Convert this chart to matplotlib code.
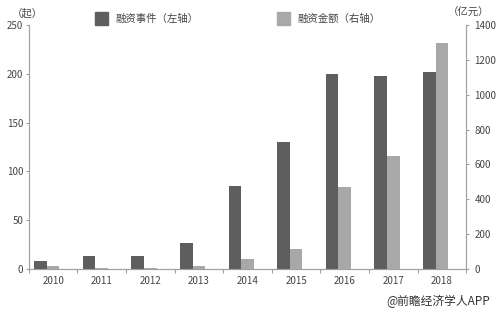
import numpy as np
import matplotlib
matplotlib.use("Agg")
import matplotlib.pyplot as plt

plt.rcParams['font.family'] = ['Noto Sans CJK SC', 'DejaVu Sans']

years = ["2010", "2011", "2012", "2013", "2014", "2015", "2016", "2017", "2018"]
events = [8, 13, 13, 27, 85, 130, 200, 198, 202]
amount = [20, 3, 5, 18, 55, 115, 470, 650, 1295]

dark = "#5e5e5e"
light = "#a8a8a8"
axcol = "#a0a0a0"
txtcol = "#444444"

fig = plt.figure(figsize=(4.97, 3.15), dpi=100)
ax = fig.add_axes([0.058, 0.146, 0.880, 0.775])
ax2 = ax.twinx()

x = np.arange(len(years))
w = 0.26
ax.bar(x - 0.26, events, width=w, color=dark, zorder=3)
ax2.bar(x, amount, width=w, color=light, zorder=3)

ax.set_xlim(-0.5, len(years) - 0.5)
ax.set_ylim(0, 250)
ax2.set_ylim(0, 1400)
ax.set_yticks([0, 50, 100, 150, 200, 250])
ax2.set_yticks([0, 200, 400, 600, 800, 1000, 1200, 1400])

# x ticks at boundaries, labels at centers
ax.set_xticks(np.arange(-0.5, len(years), 1.0))
ax.set_xticklabels([])
ax.set_xticks(x, minor=True)
ax.set_xticklabels(years, minor=True)
ax.tick_params(axis="x", which="minor", length=0, pad=5, labelsize=7, labelcolor=txtcol)
ax.tick_params(axis="x", which="major", length=3, color=axcol, direction="out")

ax.tick_params(axis="y", length=2, color=axcol, labelsize=7, labelcolor=txtcol, pad=2)
ax2.tick_params(axis="y", length=2, color=axcol, labelsize=7, labelcolor=txtcol, pad=4)

for a in (ax, ax2):
    a.spines["top"].set_visible(False)
    for s in ("left", "right", "bottom"):
        a.spines[s].set_color(axcol)
        a.spines[s].set_linewidth(0.8)

# legend-like labels
fig.patches.append(plt.Rectangle((95 / 497, 1 - 25 / 315), 13 / 497, 13 / 315,
                                 transform=fig.transFigure, color=dark))
fig.text(115 / 497, 1 - 19 / 315, "融资事件（左轴）", fontsize=7.5, color=txtcol, va="center")
fig.patches.append(plt.Rectangle((277 / 497, 1 - 25 / 315), 13 / 497, 13 / 315,
                                 transform=fig.transFigure, color=light))
fig.text(297 / 497, 1 - 19 / 315, "融资金额（右轴）", fontsize=7.5, color=txtcol, va="center")

fig.text(12 / 497, 1 - 13 / 315, "（起）", fontsize=7.5, color=txtcol, va="center")
fig.text(448 / 497, 1 - 13 / 315, "（亿元）", fontsize=7.5, color=txtcol, va="center")

fig.text(490 / 497, 1 - 301 / 315, "@前瞻经济学人APP", fontsize=8.5, color="#333333",
         ha="right", va="center")

fig.savefig("out.png", dpi=100)
